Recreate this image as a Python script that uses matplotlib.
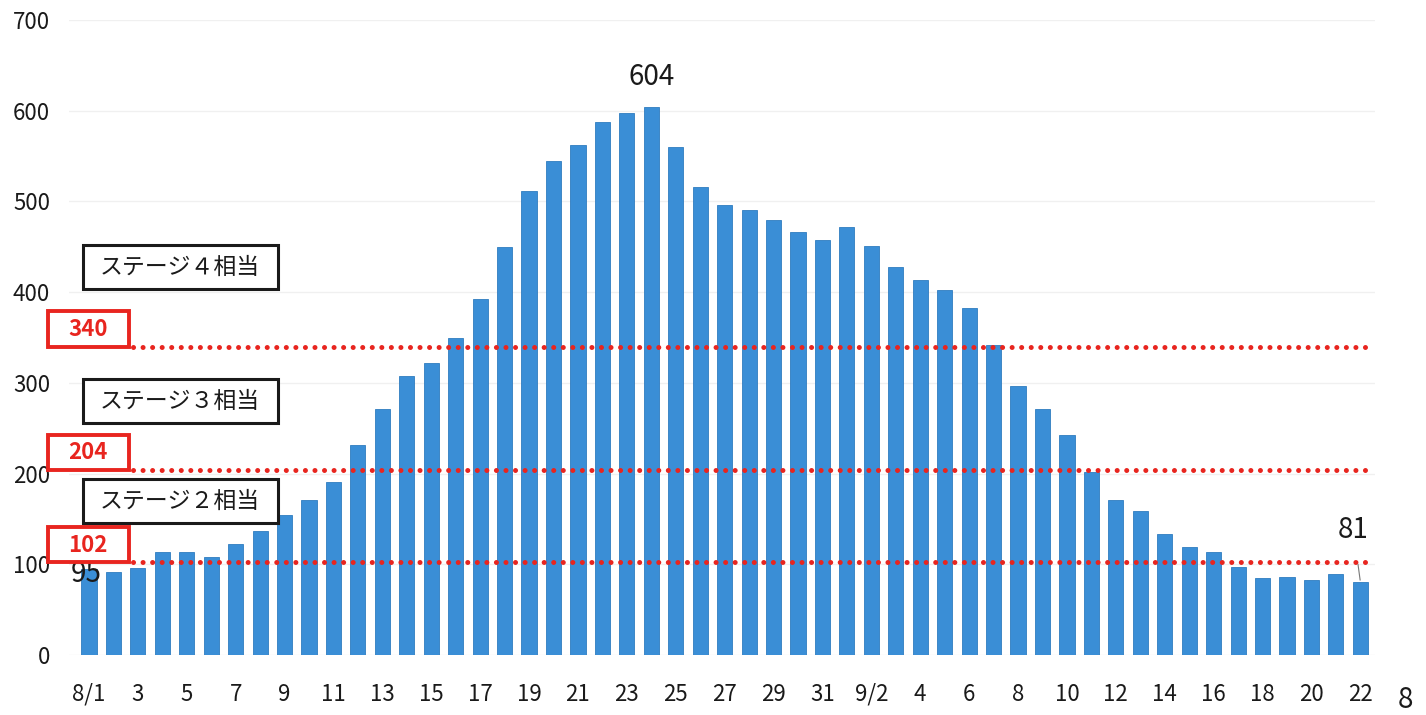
import matplotlib.pyplot as plt
from matplotlib.patches import Rectangle
from matplotlib.transforms import blended_transform_factory

plt.rcParams['font.family'] = ['Noto Sans CJK JP', 'DejaVu Sans']

# daily values 8/1 - 9/22
values = [95, 91, 96, 113, 114, 108, 122, 137, 154, 171, 191,
          231, 271, 308, 322, 349, 392, 450, 512, 545, 562,
          588, 597, 604, 560, 516, 496, 491, 480, 466, 457,
          472, 451, 428, 413, 402, 382, 342, 296, 271, 243,
          202, 171, 159, 133, 119, 114, 97, 85, 86, 83, 89, 81]
tick_labels = ['8/1', '3', '5', '7', '9', '11', '13', '15', '17', '19', '21',
               '23', '25', '27', '29', '31', '9/2', '4', '6', '8', '10',
               '12', '14', '16', '18', '20', '22']
thresholds = [102, 204, 340]
stage_names = ['ステージ２相当', 'ステージ３相当', 'ステージ４相当']

W, H = 1426, 715
def fx(px):
    return px / W
def fy(py):
    return 1 - py / H

fig = plt.figure(figsize=(W / 100, H / 100), dpi=100)
fig.patch.set_facecolor('white')
ax = fig.add_axes([fx(69.4), fy(655), fx(1375) - fx(69.4), fy(20) - fy(655)])
ax.set_xlim(-0.8, 52.6)
ax.set_ylim(0, 700)

x = list(range(len(values)))
ax.set_axisbelow(True)
ax.yaxis.grid(True, color='#f0f0f0', linewidth=1)
ax.bar(x, values, width=0.62, color='#3a8ed6', edgecolor='#2f7cc0', linewidth=0.6, zorder=2)

for s in ax.spines.values():
    s.set_visible(False)
ax.set_yticks(range(0, 701, 100))
ax.set_xticks(x[::2])
ax.set_xticklabels(tick_labels)
ax.tick_params(axis='both', length=0, labelsize=16, colors='#1a1a1a')
ax.tick_params(axis='x', pad=20)
ax.tick_params(axis='y', pad=14)

# threshold lines + red label boxes
tr = blended_transform_factory(fig.transFigure, ax.transData)
for t in thresholds:
    ax.plot([1.8, 52.45], [t, t], color='#e8251f', linestyle=(0, (0.01, 1.9)),
            linewidth=3.6, dash_capstyle='round', zorder=3)
    fig.patches.append(Rectangle((fx(48), t), fx(129) - fx(48), 39, transform=tr,
                                 facecolor='white', edgecolor='#e8251f', linewidth=2.8))
    fig.text(fx(88), t + 19, str(t), transform=tr, ha='center', va='center',
             color='#e8251f', fontsize=16, fontweight='bold')

# stage boxes (top pixel rows)
for name, top in zip(stage_names, [479, 379, 245]):
    fig.patches.append(Rectangle((fx(83), fy(top + 44)), fx(278) - fx(83), fy(top) - fy(top + 44),
                                 transform=fig.transFigure, facecolor='white',
                                 edgecolor='#1a1a1a', linewidth=2.2, zorder=5))
    fig.text(fx(180), fy(top + 22), name, ha='center', va='center', fontsize=16.5,
             color='#1a1a1a', zorder=6)

# data labels
peak = values.index(max(values))
ax.annotate(str(values[peak]), (peak, values[peak]), xytext=(0, 22), textcoords='offset points',
            ha='center', va='center', fontsize=20, color='#1a1a1a')
ax.annotate(str(values[0]), (0, values[0]), xytext=(-2, -4), textcoords='offset points',
            ha='center', va='center', fontsize=20, color='#1a1a1a', zorder=4)
ax.annotate(str(values[-1]), (len(values) - 1, values[-1]), xytext=(-5, 37), textcoords='offset points',
            ha='center', va='center', fontsize=20, color='#1a1a1a',
            arrowprops=dict(arrowstyle='-', color='#777777', lw=0.8, shrinkA=12, shrinkB=1))

fig.text(fx(1405), fy(700), '8', ha='center', va='center', fontsize=20, color='#1a1a1a')

fig.savefig('out.png', dpi=100)
